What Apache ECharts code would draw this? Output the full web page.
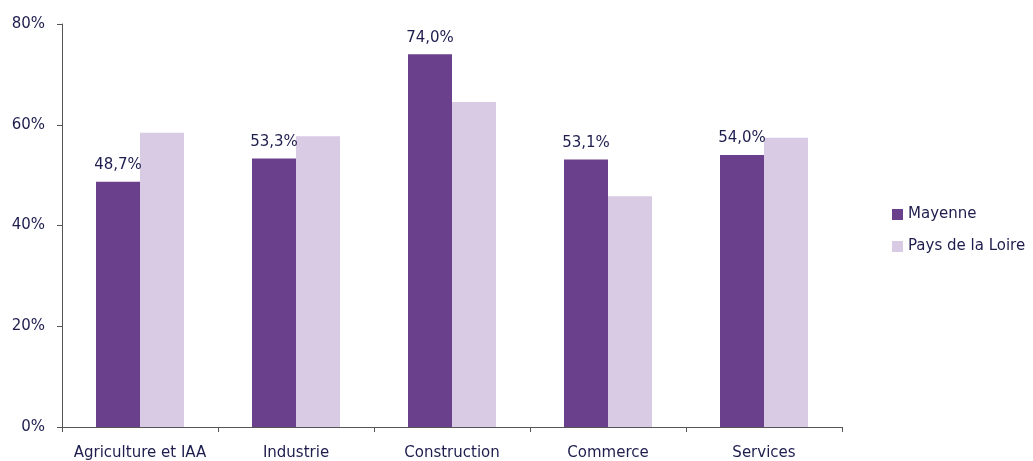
<!DOCTYPE html>
<html>
<head>
<meta charset="utf-8">
<script src="https://cdn.jsdelivr.net/npm/echarts@6/dist/echarts.min.js"></script>
<style>
  html, body { margin: 0; padding: 0; background: #fff; }
  #chart { width: 1033px; height: 461px; }
</style>
</head>
<body>
<div id="chart"></div>
<script>
// données
const categories = ['Agriculture et IAA', 'Industrie', 'Construction', 'Commerce', 'Services'];
const mayenne = [48.7, 53.3, 74.0, 53.1, 54.0];
const paysDeLaLoire = [58.4, 57.7, 64.5, 45.8, 57.4];
const yTicks = [0, 20, 40, 60, 80];

const textColor = '#1d1d4e';
const font = '"DejaVu Sans", sans-serif';

const chart = echarts.init(document.getElementById('chart'));
chart.setOption({
  animation: false,
  textStyle: { fontFamily: font, color: textColor },
  grid: { left: 62, right: 191, top: 24, bottom: 33 },
  legend: {
    orient: 'vertical',
    left: 887,
    top: 202,
    itemWidth: 11,
    itemHeight: 11,
    itemGap: 17,
    icon: 'rect',
    textStyle: { fontSize: 15, color: textColor, fontFamily: font },
    data: ['Mayenne', 'Pays de la Loire']
  },
  xAxis: {
    type: 'category',
    data: categories,
    axisLine: { lineStyle: { color: '#555', width: 1 } },
    axisTick: { show: true, length: 5, interval: 0, lineStyle: { color: '#555' } },
    axisLabel: { fontSize: 15, color: textColor, margin: 19, interval: 0, fontFamily: font }
  },
  yAxis: {
    type: 'value',
    min: yTicks[0],
    max: yTicks[yTicks.length - 1],
    interval: 20,
    axisLine: { show: true, lineStyle: { color: '#555', width: 1 } },
    axisTick: { show: true, length: 5, lineStyle: { color: '#555' } },
    splitLine: { show: false },
    axisLabel: { fontSize: 15, color: textColor, margin: 17, formatter: '{value}%', fontFamily: font }
  },
  series: [
    {
      name: 'Mayenne',
      type: 'bar',
      data: mayenne,
      barWidth: 44,
      barGap: '0%',
      itemStyle: { color: '#6a3f8b' },
      label: {
        show: true,
        position: 'top',
        distance: 9,
        fontSize: 15,
        color: textColor,
        fontFamily: font,
        formatter: (p) => p.value.toFixed(1).replace('.', ',') + '%'
      }
    },
    {
      name: 'Pays de la Loire',
      type: 'bar',
      data: paysDeLaLoire,
      barWidth: 44,
      itemStyle: { color: '#dacbe5' }
    }
  ]
});
</script>
</body>
</html>
